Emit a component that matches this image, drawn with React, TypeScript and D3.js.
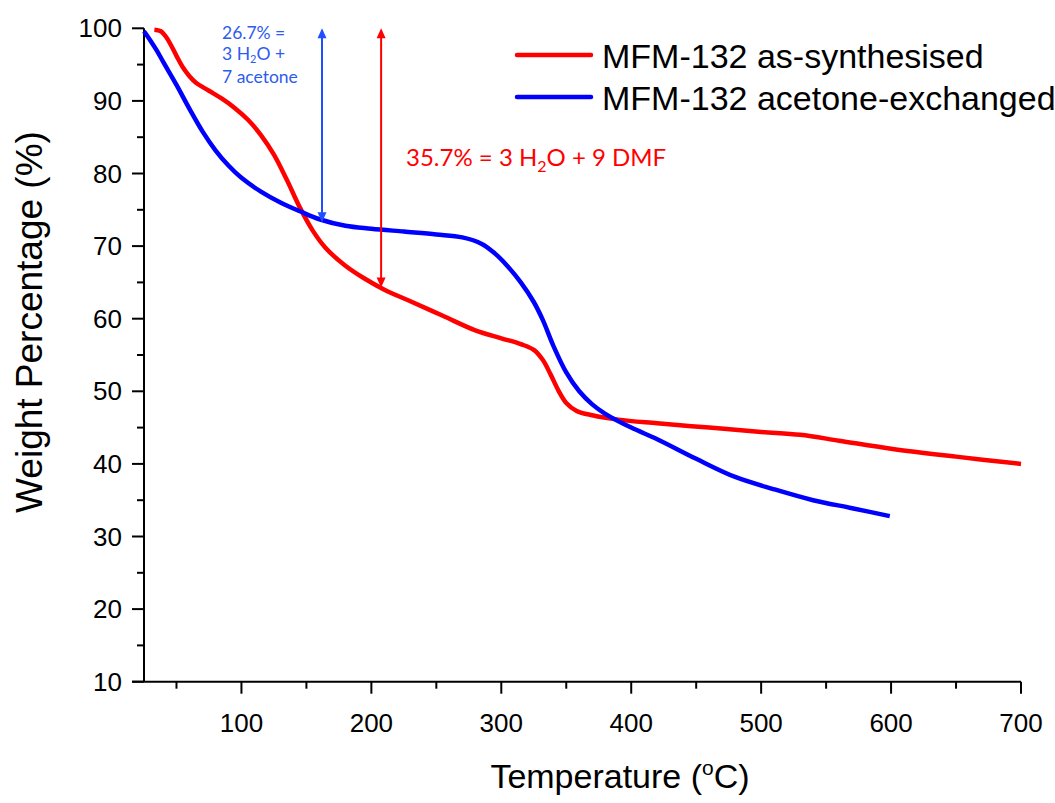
import React from "react";
import * as d3 from "d3";

// TGA traces of MFM-132 (temperature in °C, weight in %)
const asSynthTemp = [33, 38, 42, 46, 50, 55, 60, 65, 75, 85, 95, 105, 115, 125, 135, 145, 155, 165, 180, 195, 210, 230, 255, 280, 300, 315, 325, 332, 338, 344, 350, 358, 370, 390, 420, 460, 500, 530, 560, 600, 650, 700];
const asSynthWeight = [99.8, 99.6, 98.8, 97.6, 96.2, 94.6, 93.4, 92.5, 91.4, 90.3, 89.0, 87.4, 85.3, 82.6, 79.1, 75.3, 72.1, 69.7, 67.3, 65.5, 64.0, 62.4, 60.4, 58.4, 57.3, 56.5, 55.7, 54.3, 52.3, 50.1, 48.4, 47.3, 46.7, 46.1, 45.6, 45.0, 44.4, 44.0, 43.2, 42.1, 41.0, 40.0];

const exchangedTemp = [25, 30, 35, 40, 50, 60, 70, 80, 90, 100, 115, 130, 145, 160, 180, 200, 225, 250, 270, 285, 295, 305, 315, 325, 332, 340, 350, 360, 370, 380, 400, 420, 450, 480, 510, 540, 570, 599];
const exchangedWeight = [99.6, 98.3, 96.9, 95.3, 92.2, 88.9, 85.8, 83.2, 81.1, 79.4, 77.5, 76.0, 74.8, 73.7, 72.8, 72.4, 72.0, 71.6, 71.2, 70.3, 69.0, 67.2, 65.0, 62.3, 59.8, 56.3, 52.6, 50.0, 48.2, 46.9, 45.0, 43.4, 40.7, 38.2, 36.5, 35.0, 33.9, 32.8];

const seriesNames = ["MFM-132 as-synthesised", "MFM-132 acetone-exchanged"];
const seriesColors = ["#ff0000", "#0000ff"];

const xMajorTicks = [100, 200, 300, 400, 500, 600, 700];
const xMinorTicks = [50, 150, 250, 350, 450, 550, 650];
const yMajorTicks = [10, 20, 30, 40, 50, 60, 70, 80, 90, 100];
const yMinorTicks = [15, 25, 35, 45, 55, 65, 75, 85, 95];

// Mass-loss annotations: temperature of the arrow, loss in %
const acetoneLoss = { temp: 162, loss: 26.7 };
const dmfLoss = { temp: 207.5, loss: 35.7 };

const W = 1055;
const H = 803;
const left = 144;
const right = 1021;
const top = 28.3;
const bottom = 681.7;

export default function App() {
  const x = d3.scaleLinear().domain([25, 700]).range([left, right]);
  const y = d3.scaleLinear().domain([10, 100]).range([bottom, top]);

  const line = d3
    .line<[number, number]>()
    .x((d) => x(d[0]))
    .y((d) => y(d[1]))
    .curve(d3.curveCatmullRom.alpha(0.5));

  const red = line(asSynthTemp.map((t, i) => [t, asSynthWeight[i]]))!;
  const blue = line(exchangedTemp.map((t, i) => [t, exchangedWeight[i]]))!;

  const axisFont = "'Liberation Sans', Arial, sans-serif";
  const noteFont = "Lato, 'Open Sans', sans-serif";

  const arrow = (temp: number, loss: number, color: string) => {
    const ax = x(temp);
    const y1 = y(100);
    const y2 = y(100 - loss);
    const hl = 10;
    const hw = 4.5;
    return (
      <g>
        <line x1={ax} x2={ax} y1={y1 + hl - 1} y2={y2 - hl + 1} stroke={color} strokeWidth={2} />
        <path d={`M${ax},${y1} L${ax - hw},${y1 + hl} L${ax + hw},${y1 + hl} Z`} fill={color} />
        <path d={`M${ax},${y2} L${ax - hw},${y2 - hl} L${ax + hw},${y2 - hl} Z`} fill={color} />
      </g>
    );
  };

  return (
    <svg
      width={W}
      height={H}
      style={{ position: "absolute", left: 0, top: 0, background: "#fff" }}
    >
      {/* axes */}
      <line x1={132} x2={right} y1={bottom} y2={bottom} stroke="#000" strokeWidth={2} />
      <line x1={left} x2={left} y1={top} y2={bottom} stroke="#000" strokeWidth={2} />

      {xMajorTicks.map((t) => (
        <g key={"xm" + t}>
          <line x1={x(t)} x2={x(t)} y1={bottom} y2={bottom + 12} stroke="#000" strokeWidth={2} />
          <text x={x(t)} y={bottom + 50} textAnchor="middle" fontFamily={axisFont} fontSize={26}>
            {t}
          </text>
        </g>
      ))}
      {xMinorTicks.map((t) => (
        <line key={"xn" + t} x1={x(t)} x2={x(t)} y1={bottom} y2={bottom + 7} stroke="#000" strokeWidth={2} />
      ))}
      {yMajorTicks.map((t) => (
        <g key={"ym" + t}>
          <line x1={left - 12} x2={left} y1={y(t)} y2={y(t)} stroke="#000" strokeWidth={2} />
          <text x={left - 22} y={y(t) + 9} textAnchor="end" fontFamily={axisFont} fontSize={26}>
            {t}
          </text>
        </g>
      ))}
      {yMinorTicks.map((t) => (
        <line key={"yn" + t} x1={left - 7} x2={left} y1={y(t)} y2={y(t)} stroke="#000" strokeWidth={2} />
      ))}

      {/* axis titles */}
      <text x={620} y={788} textAnchor="middle" fontFamily={axisFont} fontSize={34}>
        Temperature (
        <tspan fontSize={21} dy={-13}>o</tspan>
        <tspan dy={13}>C)</tspan>
      </text>
      <text
        transform={`translate(42, ${(top + bottom) / 2 - 33}) rotate(-90)`}
        textAnchor="middle"
        fontFamily={axisFont}
        fontSize={37}
      >
        Weight Percentage (%)
      </text>

      {/* traces */}
      <path d={red} fill="none" stroke={seriesColors[0]} strokeWidth={4.5} strokeLinejoin="round" />
      <path d={blue} fill="none" stroke={seriesColors[1]} strokeWidth={4.5} strokeLinejoin="round" />

      {/* mass-loss arrows and notes */}
      {arrow(acetoneLoss.temp, acetoneLoss.loss, "#1f4fff")}
      {arrow(dmfLoss.temp, dmfLoss.loss, "#ff0000")}

      <g fontFamily={noteFont} fontSize={17.5} fill="#2d5bf0">
        <text x={222} y={39}>{acetoneLoss.loss}% =</text>
        <text x={222} y={60}>
          3 H<tspan fontSize={11} dy={3}>2</tspan>
          <tspan dy={-3}>O +</tspan>
        </text>
        <text x={222} y={83}>7 acetone</text>
      </g>
      <text x={406} y={166} fontFamily={noteFont} fontSize={24} fill="#ff0000">
        {dmfLoss.loss}% = 3 H<tspan fontSize={16} dy={6}>2</tspan>
        <tspan dy={-6}>O + 9 DMF</tspan>
      </text>

      {/* legend */}
      {seriesNames.map((name, i) => (
        <g key={name}>
          <line
            x1={517}
            x2={591}
            y1={55 + i * 42}
            y2={55 + i * 42}
            stroke={seriesColors[i]}
            strokeWidth={4.5}
            strokeLinecap="round"
          />
          <text x={602} y={68 + i * 42} fontFamily={axisFont} fontSize={34}>
            {name}
          </text>
        </g>
      ))}
    </svg>
  );
}
